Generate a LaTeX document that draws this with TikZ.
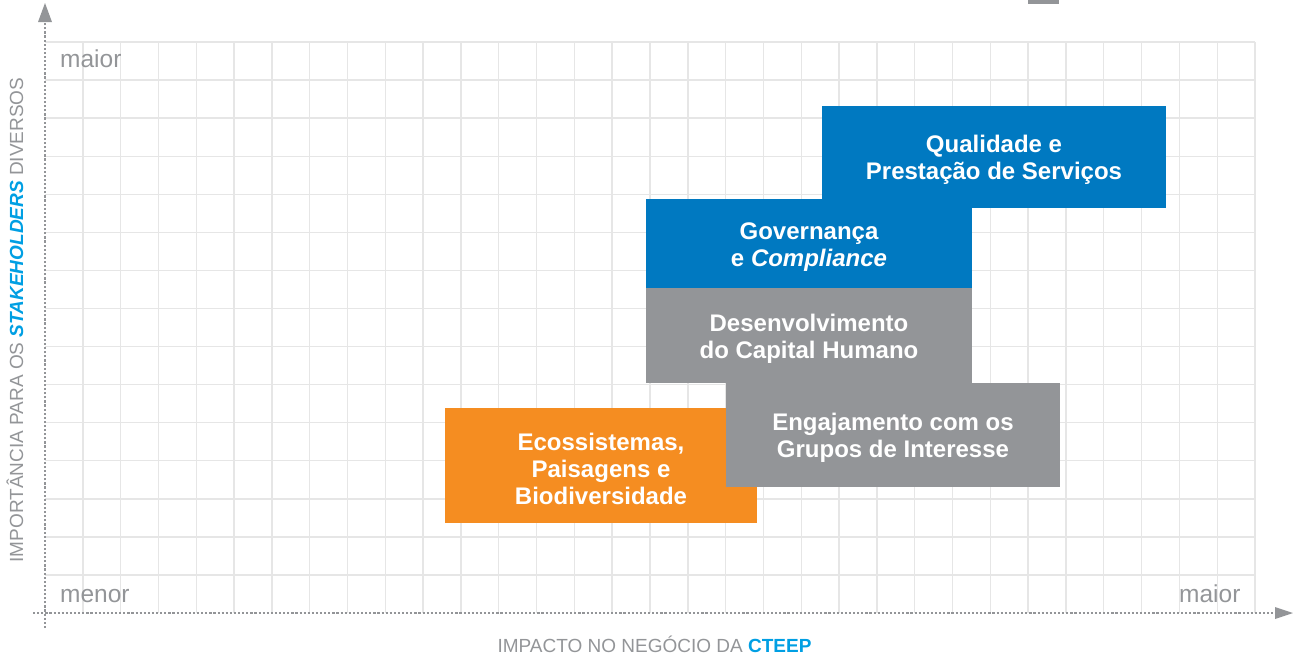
\documentclass[tikz,border=0pt]{standalone}
\usepackage{fontspec}
\setmainfont{Liberation Sans}
\usetikzlibrary{arrows.meta}
\definecolor{cblue}{RGB}{0,121,193}
\definecolor{cgray}{RGB}{147,149,152}
\definecolor{corange}{RGB}{245,141,33}
\definecolor{lblue}{RGB}{0,159,227}
\definecolor{gridc}{RGB}{230,230,230}
\tikzset{
  boxshape/.style={inner sep=0pt, draw=none},
  boxtext/.style={inner sep=0pt, align=center, text=white,
    font=\fontsize{24}{27}\selectfont\bfseries},
  axislab/.style={inner sep=0pt, text=cgray, font=\fontsize{19}{22}\selectfont},
  corner/.style={inner sep=0pt, anchor=base west, text=cgray, font=\fontsize{24.5}{28}\selectfont},
  axisline/.style={cgray, line width=2.3pt, dash pattern=on 2.2pt off 1.9pt},
}
\begin{document}
\begin{tikzpicture}[x=1pt,y=-1pt]
\useasboundingbox (0,0) rectangle (1293,654);
% grid
\foreach \i in {1,...,32}{
  \draw[gridc, line width=1.4pt] ({45+\i*37.8125},42) -- ({45+\i*37.8125},613);
}
\foreach \j in {0,...,14}{
  \draw[gridc, line width=1.4pt] (45,{42+\j*38.07}) -- (1255,{42+\j*38.07});
}
% top tab
\fill[cgray] (1028,0) rectangle (1059,4);
% corner labels
\node[corner] (topmaior) at (60,67) {maior};
\node[corner] (menor) at (60,602) {menor};
\node[corner] (rightmaior) at (1179,602) {maior};
% axes
\coordinate (yb) at (45,628);
\coordinate (yt) at (45,3);
\coordinate (xl) at (33,613);
\coordinate (xr) at (1293,613);
\draw[axisline] (yb) -- (45,22);
\fill[cgray] (yt) -- (38,22) -- (52,22) -- cycle;
\draw[axisline] (xl) -- (1275,613);
\fill[cgray] (xr) -- (1275,607) -- (1275,619) -- cycle;
% boxes
\node[boxshape, fill=cblue, minimum width=344pt, minimum height=102pt] (qual) at (994,157) {};
\node[boxtext] (qualt) at ([yshift=-3pt]qual.center) {Qualidade e\\Prestação de Serviços};
\node[boxshape, fill=cblue, minimum width=326pt, minimum height=89pt] (gov) at (809,243.5) {};
\node[boxtext] (govt) at ([yshift=-4pt]gov.center) {Governança\\e \textit{Compliance}};
\node[boxshape, fill=cgray, minimum width=326pt, minimum height=95pt] (des) at (809,335.5) {};
\node[boxtext] (dest) at ([yshift=-3pt]des.center) {Desenvolvimento\\do Capital Humano};
\node[boxshape, fill=corange, minimum width=312pt, minimum height=115pt] (eco) at (601,465.5) {};
\node[boxtext] (ecot) at ([yshift=-3.5pt]eco.center) {Ecossistemas,\\Paisagens e\\Biodiversidade};
\node[boxshape, fill=cgray, minimum width=334pt, minimum height=104pt] (eng) at (893,435) {};
\node[boxtext] (engt) at ([yshift=-3pt]eng.center) {Engajamento com os\\Grupos de Interesse};
% axis labels
\node[axislab, rotate=90] (ylab) at (15,320)
  {IMPORTÂNCIA PARA OS {\color{lblue}\bfseries\itshape STAKEHOLDERS} DIVERSOS};
\node[axislab] (xlab) at (654.5,644)
  {IMPACTO NO NEGÓCIO DA {\color{lblue}\bfseries CTEEP}};
\end{tikzpicture}
\end{document}
